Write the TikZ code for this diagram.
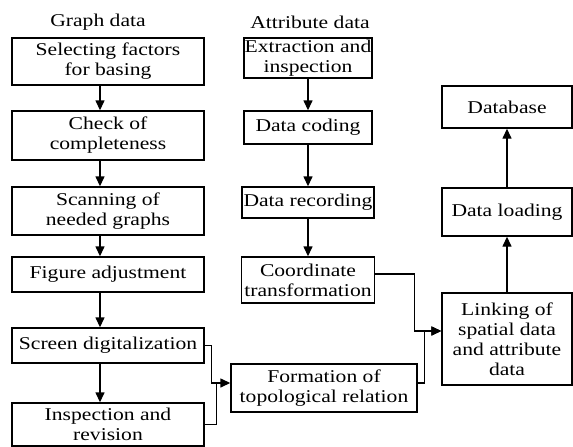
\documentclass[tikz,border=0pt]{standalone}
\usepackage{fontspec}
\newfontfamily\boxfont[FakeStretch=1.2]{Liberation Serif}
\usetikzlibrary{arrows.meta}
\begin{document}
\begin{tikzpicture}[x=1pt,y=-1pt,
    every node/.style={font=\boxfont\fontsize{18}{20}\selectfont},
    blk/.style={draw, line width=1.4pt, align=center, inner sep=0pt},
    link/.style={line width=1.4pt},
    ->/.style={link, -{Triangle[length=10pt,width=9pt]}}]
  \useasboundingbox (0,0) rectangle (573,447);
  %% HEADINGS
  \node (gd) at (98,22)  {Graph data};
  \node (ad) at (310,22) {Attribute data};

  %% GRAPH DATA
  \node[blk, minimum width=192pt, minimum height=47pt] (s1) at (108,61.5)  {Selecting factors\\for basing};
  \node[blk, minimum width=192pt, minimum height=49pt] (s2) at (108,135.5) {Check of\\completeness};
  \node[blk, minimum width=192pt, minimum height=48pt] (s3) at (108,211)   {Scanning of\\needed graphs};
  \node[blk, minimum width=192pt, minimum height=35pt] (s4) at (108,274.5) {Figure adjustment};
  \node[blk, minimum width=192pt, minimum height=35pt] (s5) at (108,345.5) {Screen digitalization};
  \node[blk, minimum width=192pt, minimum height=43pt] (s6) at (108,424.5) {Inspection and\\revision};

  %% ATTRIBUTE DATA
  \node[blk, minimum width=128pt, minimum height=40pt] (a1) at (308,58)    {Extraction and\\inspection};
  \node[blk, minimum width=128pt, minimum height=33pt] (a2) at (308,127.5) {Data coding};
  \node[blk, minimum width=132pt, minimum height=31pt] (a3) at (308,202.5) {Data recording};
  \node[blk, minimum width=133pt, minimum height=46pt] (a4) at (308,280)   {Coordinate\\transformation};

  %% MERGING
  \node[blk, minimum width=186pt, minimum height=48pt] (t1) at (324,388) {Formation of\\topological relation};
  \node[blk, minimum width=130pt, minimum height=92pt] (l1) at (507,339) {Linking of\\spatial data\\and attribute\\data};
  \node[blk, minimum width=130pt, minimum height=48pt] (d2) at (507,212) {Data loading};
  \node[blk, minimum width=130pt, minimum height=42pt] (d1) at (507,107) {Database};

  %% ARROWS
  \foreach \a/\b in {s1/s2,s2/s3,s3/s4,s4/s5,s5/s6}
    \draw[->] ([xshift=-8pt]\a.south) -- ([xshift=-8pt]\b.north);
  \foreach \a/\b in {a1/a2,a2/a3,a3/a4}
    \draw[->] (\a.south) -- (\b.north);
  \draw[->] (s5.east) -- ++(7,0) |- ([yshift=5pt]t1.west);
  \draw[link] (s6.east) -| ([xshift=-14pt,yshift=5pt]t1.west);
  \draw[->] ([yshift=5pt]t1.east) -- ++(7,0) |- ([yshift=8pt]l1.west);
  \draw[->] ([yshift=6pt]a4.east) -- ++(39,0) |- ([yshift=8pt]l1.west);
  \draw[->] (l1.north) -- (d2.south);
  \draw[->] (d2.north) -- (d1.south);
\end{tikzpicture}
\end{document}
